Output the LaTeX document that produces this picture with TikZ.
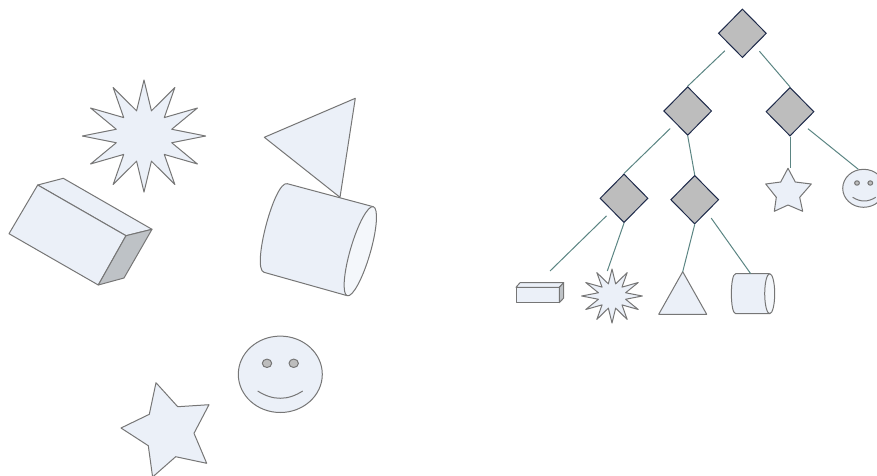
\documentclass[tikz,border=0pt]{standalone}
\usepackage{tikz}
\usetikzlibrary{shapes.geometric, positioning, calc}
\definecolor{shapefill}{HTML}{EBF0F8}
\definecolor{shapeedge}{HTML}{767676}
\definecolor{endfill}{HTML}{F4F7FB}
\definecolor{shadefill}{HTML}{BEC2C6}
\definecolor{testfill}{HTML}{BDBDBD}
\definecolor{testedge}{HTML}{1E2A4A}
\definecolor{branchcol}{HTML}{5B8583}
\newcommand{\burstat}[4]{\draw[solid shape] plot[samples at={0,...,23}, variable=\k]
  ({#1+#3*(1-0.535*mod(\k,2))*cos(90+\k*15)}, {#2+#4*(1-0.535*mod(\k,2))*sin(90+\k*15)}) -- cycle;}
\tikzset{
  solid shape/.style={draw=shapeedge, fill=shapefill, line width=0.75pt, line join=round},
  end face/.style={solid shape, fill=endfill},
  shade face/.style={solid shape, fill=shadefill},
  eye/.style={solid shape, fill=testfill},
  mouth/.style={draw=shapeedge, line width=0.75pt},
  test/.style={diamond, aspect=1, inner sep=0pt, minimum width=36pt, minimum height=36.5pt,
    draw=testedge, fill=testfill, line width=0.75pt},
  branch/.style={draw=branchcol, line width=0.75pt},
  gap/.style={shorten <=5.5pt},
}
\begin{document}
\begin{tikzpicture}[x=0.75pt, y=-0.75pt]
  \useasboundingbox (0,0) rectangle (877,475);

  \burstat{144}{136}{61.7}{56}
  \draw[solid shape] (37.7,185) -- (63.3,178.3) -- (152,229.3) -- (126,235.7) -- cycle;
  \draw[solid shape] (37.7,185) -- (9,233.7) -- (98.3,285) -- (126,235.7) -- cycle;
  \draw[shade face] (126,235.7) -- (152,229.3) -- (124,278) -- (98.3,285) -- cycle;
  \draw[solid shape] (355.3,98.3) -- (264.3,137.3) -- (340,197.3) -- cycle;
  \draw[solid shape] (373.3,206.7) -- (287.3,183.7) .. controls (274.5,180) and (251.2,268.6) .. (264,272.3) -- (347.3,295.7);
  \draw[end face, rotate around={-16.3:(360.3,251.2)}] (360.3,251.2) ellipse (10 and 46.4);
  \draw[solid shape] (280.3,374.3) ellipse (42 and 38.2);
  \draw[eye] (267,363.3) ellipse (4.7 and 4.2);
  \draw[eye] (293.7,363.3) ellipse (4.7 and 4.2);
  \draw[mouth] (257.7,391) .. controls (272.7,400.7) and (287.7,400.7) .. (302.7,391);
  \draw[solid shape] (156,382.7) -- (177.7,406.7) -- (209,404.7) -- (194,433.3) -- (206.7,463.3) -- (175.7,456.7)
    -- (152.6,477) -- (148.3,445.7) -- (121,428) -- (149.3,414.3) -- cycle;

  \node[test] (root) at (742.4,33.3) {};
  \node[test] (left) at (687.7,111) {};
  \node[test] (right) at (790,111.7) {};
  \node[test] (leftleft) at (624,198.3) {};
  \node[test] (leftright) at (694.7,199.7) {};

  \draw[solid shape] (516,287.3) -- (520,282.7) -- (563.7,282.7) -- (559.3,287.3) -- cycle;
  \draw[solid shape] (516,287.3) rectangle (559.3,302.7);
  \draw[shade face] (559.3,287.3) -- (563.7,282.7) -- (563.7,298) -- (559.3,302.7) -- cycle;
  \burstat{612}{296}{30.3}{27}
  \draw[solid shape] (682.7,271.7) coordinate (tinytri) -- (658.7,314.3) -- (706.7,314.3) -- cycle;
  \draw[solid shape] (769.7,273.7) -- (735.7,273.7) .. controls (729.9,273.7) and (729.9,313.7) .. (735.7,313.7) -- (769.7,313.7);
  \draw[end face] (769.7,293.7) ellipse (5 and 20);
  \draw[solid shape] (788,168.3) coordinate (tinystar) -- (795.3,182) -- (811.3,184) -- (799.7,197.3) -- (802.7,211.3)
    -- (788,205) -- (774.3,211.3) -- (776.3,197.3) -- (765.7,184) -- (780.7,182) -- cycle;
  \draw[solid shape] (863.6,188.3) ellipse (20.9 and 19);
  \draw[eye] (857,183) ellipse (2.4 and 2.2);
  \draw[eye] (870.3,183) ellipse (2.4 and 2.2);
  \draw[mouth] (852.7,197.3) .. controls (860.4,202.2) and (868,202.2) .. (875.7,197.3);

  \coordinate (tinyboxend) at (550,271);
  \coordinate (tinyburstend) at (607.3,271);
  \coordinate (tinycylend) at (750.7,273.7);
  \coordinate (tinysmileend) at (858.3,169.3);

  \draw[branch, gap] (root.south west) -- (left.north);
  \draw[branch, gap] (root.south east) -- (right.north);
  \draw[branch, gap] (left.south west) -- (leftleft.north);
  \draw[branch] (left.south) -- (leftright.north);
  \draw[branch] (right.south) -- (right.south |- tinystar);
  \draw[branch, gap] (right.south east) -- (tinysmileend);
  \draw[branch, gap] (leftleft.south west) -- (tinyboxend);
  \draw[branch] (leftleft.south) -- (tinyburstend);
  \draw[branch] (leftright.south) -- (tinytri);
  \draw[branch, gap] (leftright.south east) -- (tinycylend);
\end{tikzpicture}
\end{document}
